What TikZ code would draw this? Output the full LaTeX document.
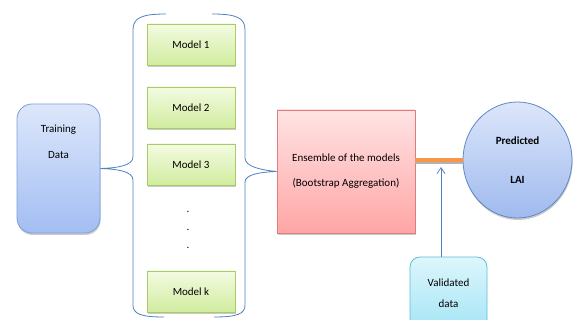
\documentclass[tikz,border=0pt]{standalone}
\usepackage{fontspec}
\setmainfont{Carlito}
\usetikzlibrary{arrows.meta,shadows,shapes.geometric,calc}

\definecolor{trainTop}{HTML}{DDE7FB}
\definecolor{trainBot}{HTML}{A3BEF3}
\definecolor{trainLine}{HTML}{7C9ED8}
\definecolor{modelTop}{HTML}{F4FBE2}
\definecolor{modelBot}{HTML}{D0EC9E}
\definecolor{modelLine}{HTML}{A8CB68}
\definecolor{ensTop}{HTML}{FFE3E3}
\definecolor{ensBot}{HTML}{FFA6A6}
\definecolor{ensLine}{HTML}{E07C7C}
\definecolor{predTop}{HTML}{DCE6FA}
\definecolor{predBot}{HTML}{9FBAEE}
\definecolor{predLine}{HTML}{5F87C6}
\definecolor{valTop}{HTML}{DDF6FC}
\definecolor{valBot}{HTML}{A6E5F6}
\definecolor{valLine}{HTML}{5DBFD6}
\definecolor{braceBlue}{HTML}{4F81BD}
\definecolor{flowOrange}{HTML}{F79646}

\tikzset{
  softshadow/.style={drop shadow={shadow xshift=0.6pt, shadow yshift=-2pt, fill=black!45, opacity=0.45}},
  trainbox/.style={rounded corners=15pt, draw=trainLine, line width=0.8pt,
    top color=trainTop, bottom color=trainBot, softshadow,
    minimum width=83pt, minimum height=129pt},
  modelbox/.style={draw=modelLine, line width=0.8pt, top color=modelTop, bottom color=modelBot,
    softshadow, minimum width=88pt, minimum height=41pt, font=\fontsize{11}{13}\selectfont},
  ensbox/.style={draw=ensLine, line width=0.8pt, top color=ensTop, bottom color=ensBot,
    softshadow, minimum width=138pt, minimum height=123pt, align=center,
    font=\fontsize{11}{13}\selectfont},
  predcircle/.style={ellipse, draw=predLine, line width=0.8pt, top color=predTop, bottom color=predBot,
    softshadow, minimum width=109pt, minimum height=116pt, align=center,
    font=\bfseries\fontsize{11}{13}\selectfont},
  valbox/.style={rounded corners=10pt, draw=valLine, line width=0.8pt, top color=valTop, bottom color=valBot,
    minimum width=77pt, minimum height=72pt, align=center, font=\fontsize{11}{13}\selectfont},
  lbl/.style={font=\fontsize{11}{13}\selectfont, inner sep=0pt},
  bracket/.style={draw=braceBlue, line width=0.8pt},
}

\begin{document}
\begin{tikzpicture}[x=1pt,y=-1pt]
\useasboundingbox (0,0) rectangle (573,320);

% input data
\node[trainbox] (train) at (58.5,168.5) {};
\node[lbl] (trainA) at (58.5,130) {Training};
\node[lbl] (trainB) at (58.5,155) {Data};

% bootstrap models
\node[modelbox] (m1) at (191,44.5) {Model 1};
\node[modelbox] (m2) at (191,107.5) {Model 2};
\node[modelbox] (m3) at (191,164.5) {Model 3};
\node[modelbox] (mk) at (191,291.5) {Model k};
\node[lbl] (d1) at (188,212) {.};
\node[lbl] (d2) at (188,230) {.};
\node[lbl] (d3) at (188,248) {.};

% aggregation and output
\node[ensbox] (ens) at (346,171.5) {Ensemble of the models\\[12pt](Bootstrap Aggregation)};
\node[predcircle] (pred) at (517.5,160) {Predicted\\[26pt]LAI};
\node[valbox] (val) at (448.5,293) {Validated\\[8pt]data};

% left brace: training data fans out to the models
\coordinate (lt) at (166,14);
\coordinate (lb) at (164,317);
\draw[bracket] (lt) .. controls (141,14) and (133,18) .. (133,30)
  -- (133,157) .. controls (133,166) and (116,168) .. (train.east)
  .. controls (116,169) and (133,171) .. (133,180)
  -- (133,305) .. controls (133,314) and (141,317) .. (lb);

% right brace: models gathered into the ensemble
\coordinate (rt) at (212,14);
\coordinate (rb) at (214,317);
\draw[bracket] (rt) .. controls (237,14) and (245,18) .. (245,30)
  -- (245,158) .. controls (245,167) and (262,170) .. (ens.west)
  .. controls (262,172) and (245,174) .. (245,182)
  -- (245,305) .. controls (245,314) and (237,317) .. (rb);

% ensemble output to prediction
\draw[line width=4pt, draw=black!30] ($(pred.west -| ens.east)+(0,2)$) -- ($(pred.west)+(0,2)$);
\draw[line width=4pt, draw=flowOrange] (pred.west -| ens.east) -- (pred.west);

% validation feeding in
\coordinate (vtip) at (441,167);
\draw[braceBlue, line width=0.7pt, -{Straight Barb[length=6pt,width=8pt]}] (vtip |- val.north) -- (vtip);
\end{tikzpicture}
\end{document}
